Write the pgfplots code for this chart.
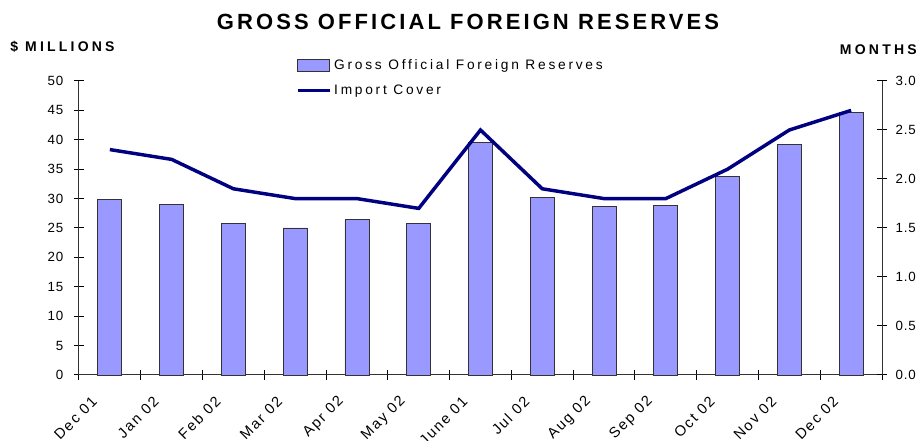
\documentclass[border=0pt]{standalone}
\usepackage{fontspec}
\setmainfont{Liberation Sans}
\newfontfamily\spaced[LetterSpace=6]{Liberation Sans}
\newfontfamily\xfont[LetterSpace=12]{Liberation Sans}
\newfontfamily\legfont[LetterSpace=20]{Liberation Sans}
\newfontfamily\wide[LetterSpace=14]{Liberation Sans}
\newfontfamily\wider[LetterSpace=23]{Liberation Sans}
\usepackage{pgfplots}
\usepackage{pgfplotstable}
\pgfplotsset{compat=1.18}
\definecolor{barblue}{HTML}{9999FF}
\definecolor{navyline}{HTML}{000080}

% month index, reserves ($ millions), import cover (months)
\pgfplotstableread{
x res cover
0 29.8 2.3
1 29.0 2.2
2 25.7 1.9
3 25.0 1.8
4 26.4 1.8
5 25.7 1.7
6 39.6 2.5
7 30.2 1.9
8 28.7 1.8
9 28.9 1.8
10 33.8 2.1
11 39.2 2.5
12 44.6 2.7
}\data

\pgfplotsset{
  common/.style={
    scale only axis, width=602.25pt, height=220.5pt,
    xmin=-0.5, xmax=12.5, clip=false,
    axis line style={-, black!80, line width=0.75pt},
    tick align=center, major tick length=7.5pt,
    tick style={black, line width=0.75pt},
    ticklabel style={font=\spaced\fontsize{10}{12}\selectfont},
    /pgf/number format/assume math mode=true,
  },
  barlegend/.style={legend image code/.code={\draw[##1] (0pt,-4.5pt) rectangle (24pt,4.5pt);}},
  linelegend/.style={legend image code/.code={\draw[##1] (0pt,0pt) -- (24pt,0pt);}},
}

\begin{document}
\begin{tikzpicture}
\begin{axis}[
  common,
  ymin=0, ymax=50, ytick={0,5,...,50},
  axis y line*=left, axis x line*=bottom,
  yticklabel style={xshift=-4.5pt},
  xtick={-0.5,0.5,...,12.5},
  xticklabels={Dec 01,Jan 02,Feb 02,Mar 02,Apr 02,May 02,June 01,Jul 02,Aug 02,Sep 02,Oct 02,Nov 02,Dec 02,{}},
  xticklabel style={font=\xfont\fontsize{11}{13}\selectfont, xshift=14pt, yshift=-12pt, rotate=45, anchor=east},
  legend style={draw=none, fill=none, at={(0.270,1.092)}, anchor=north west,
    font=\legfont\fontsize{10.3}{12}\selectfont, row sep=6pt,
    inner xsep=0pt, cells={anchor=west}},
]
\addplot[ybar, bar width=18pt, fill=barblue, draw=black!80, line width=0.6pt, barlegend]
  table[x=x, y=res]{\data};
\addlegendentry{Gross Official Foreign Reserves}
\addlegendimage{navyline, line width=2.6pt, linelegend}
\addlegendentry{Import Cover}
\end{axis}
\begin{axis}[
  common,
  ymin=0, ymax=3, ytick={0,0.5,...,3},
  axis y line*=right, axis x line=none,
  yticklabel style={xshift=3pt, /pgf/number format/.cd, fixed, fixed zerofill, precision=1},
]
\addplot[navyline, line width=2.6pt] table[x=x, y=cover]{\data};
\end{axis}
\node[font=\wide\bfseries\fontsize{16.5}{19}\selectfont] at (291.75pt,264.75pt) {GROSS OFFICIAL FOREIGN RESERVES};
\node[font=\wider\bfseries\fontsize{10.5}{12}\selectfont, anchor=west, inner sep=0pt] at (-51.75pt,246pt) {\$ MILLIONS};
\node[font=\wider\bfseries\fontsize{10.5}{12}\selectfont, anchor=east, inner sep=0pt] at (628.5pt,243.75pt) {MONTHS};
\pgfresetboundingbox
\useasboundingbox (-59.25pt,-49.5pt) rectangle (632.25pt,281.25pt);
\end{tikzpicture}
\end{document}
